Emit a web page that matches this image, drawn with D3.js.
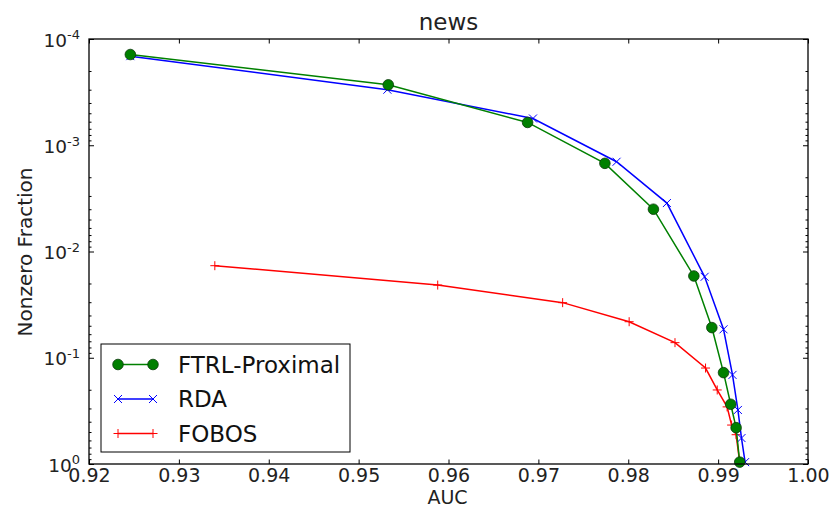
<!DOCTYPE html>
<html>
<head>
<meta charset="utf-8">
<script src="https://cdn.jsdelivr.net/npm/d3@7"></script>
<style>
  body { margin: 0; background: #fff; }
  svg { display: block; font-family: "DejaVu Sans", sans-serif; }
</style>
</head>
<body>
<div id="chart"></div>
<script>
// values (AUC vs nonzero fraction)
var ftrl_auc = [0.9246, 0.9533, 0.9688, 0.9774, 0.9828, 0.9873, 0.9893, 0.9906, 0.9914, 0.9920, 0.9924]
var ftrl_frac = [1.4e-4, 2.7e-4, 6.1e-4, 1.48e-3, 4.0e-3, 0.017, 0.052, 0.138, 0.274, 0.455, 0.96]

var rda_auc = [0.9246, 0.9532, 0.9694, 0.9787, 0.9843, 0.9885, 0.9906, 0.9916, 0.9922, 0.9926, 0.9930]
var rda_frac = [1.45e-4, 3.0e-4, 5.6e-4, 1.43e-3, 3.5e-3, 0.0173, 0.054, 0.145, 0.31, 0.57, 0.96]

var fobos_auc = [0.9340, 0.9588, 0.9727, 0.9801, 0.9852, 0.9886, 0.9899, 0.9910, 0.9915, 0.9920, 0.9924]
var fobos_frac = [0.0136, 0.0207, 0.0303, 0.0458, 0.0721, 0.125, 0.201, 0.29, 0.43, 0.53, 0.96]

var x_ticks = [0.92, 0.93, 0.94, 0.95, 0.96, 0.97, 0.98, 0.99, 1.00]
var y_ticks = [1e-4, 1e-3, 1e-2, 1e-1, 1]
var y_tick_exp = ["-4", "-3", "-2", "-1", "0"]

var series_names = ["FTRL-Proximal", "RDA", "FOBOS"]

var width = 829
var height = 507
// plot box edges (named so they don't clash with window.top)
var plot_left = 89, plot_right = 808, plot_top = 39, plot_bottom = 464

function zip(a, b) { return a.map((v, i) => ({ auc: v, frac: b[i] })) }

var series = [
    { name: series_names[0], data: zip(ftrl_auc, ftrl_frac), color: "#008000", marker: "circle" },
    { name: series_names[1], data: zip(rda_auc, rda_frac), color: "#0000ff", marker: "x" },
    { name: series_names[2], data: zip(fobos_auc, fobos_frac), color: "#ff0000", marker: "plus" }
]

const svg = d3.select("#chart")
    .append("svg")
    .attr("width", width)
    .attr("height", height)

var x = d3.scaleLinear().domain([0.92, 1.0]).range([plot_left, plot_right])
var y = d3.scaleLog().domain([1e-4, 1]).range([plot_top, plot_bottom])

// minor log ticks
var minor = []
for (var e = -4; e < 0; e++) {
    for (var m = 2; m < 10; m++) minor.push(m * Math.pow(10, e))
}

// axes: ticks point inward
svg.append("g")
    .attr("class", "xaxis")
    .attr("transform", "translate(0," + plot_bottom + ")")
    .call(d3.axisBottom(x).tickValues(x_ticks).tickSize(-4.5).tickPadding(5)
        .tickFormat(d3.format(".2f")))

svg.append("g")
    .attr("transform", "translate(0," + plot_top + ")")
    .call(d3.axisTop(x).tickValues(x_ticks).tickSize(-4.5).tickFormat(""))

var yax = svg.append("g")
    .attr("class", "yaxis")
    .attr("transform", "translate(" + plot_left + ",0)")
    .call(d3.axisLeft(y).tickValues(y_ticks).tickSize(-5).tickPadding(9).tickFormat(""))

svg.append("g")
    .attr("transform", "translate(" + plot_left + ",0)")
    .call(d3.axisLeft(y).tickValues(minor).tickSize(-2.5).tickFormat(""))

svg.append("g")
    .attr("transform", "translate(" + plot_right + ",0)")
    .call(d3.axisRight(y).tickValues(y_ticks).tickSize(-5).tickFormat(""))

svg.append("g")
    .attr("transform", "translate(" + plot_right + ",0)")
    .call(d3.axisRight(y).tickValues(minor).tickSize(-2.5).tickFormat(""))

svg.selectAll(".domain").remove()
svg.selectAll(".tick line").attr("stroke", "#000").attr("stroke-width", 1)

svg.selectAll(".xaxis .tick text")
    .style("font-size", "19px")
    .style("font-family", "DejaVu Sans")
    .attr("fill", "#222")

// 10^n labels with superscripts
yax.selectAll(".tick text")
    .style("font-size", "18.5px")
    .style("font-family", "DejaVu Sans")
    .attr("fill", "#222")
    .attr("dy", "0.38em")
    .each(function (d, i) {
        var t = d3.select(this)
        t.text("10")
        t.append("tspan")
            .attr("dy", "-0.55em")
            .style("font-size", "13px")
            .text(y_tick_exp[i])
    })

// lines
var line = d3.line()
    .x((d) => x(d.auc))
    .y((d) => y(d.frac))

function drawMarker(g, kind, color, cx, cy) {
    if (kind == "circle") {
        g.append("circle")
            .attr("cx", cx).attr("cy", cy).attr("r", 5.3)
            .attr("fill", color)
            .attr("stroke", "#0a3a0a")
            .attr("stroke-width", 0.8)
    } else if (kind == "x") {
        var s = 4
        g.append("path")
            .attr("d", "M" + (cx - s) + "," + (cy - s) + "L" + (cx + s) + "," + (cy + s) +
                "M" + (cx - s) + "," + (cy + s) + "L" + (cx + s) + "," + (cy - s))
            .attr("stroke", color).attr("stroke-width", 1).attr("fill", "none")
    } else {
        var s = 4.5
        g.append("path")
            .attr("d", "M" + (cx - s) + "," + cy + "L" + (cx + s) + "," + cy +
                "M" + cx + "," + (cy - s) + "L" + cx + "," + (cy + s))
            .attr("stroke", color).attr("stroke-width", 1).attr("fill", "none")
    }
}

var plot = svg.append("g")

// draw in reverse so FTRL sits on top like the reference
series.slice().reverse().forEach((s) => {
    plot.append("path")
        .datum(s.data)
        .attr("fill", "none")
        .attr("stroke", s.color)
        .attr("stroke-width", 1.5)
        .attr("d", line)
    var mg = plot.append("g")
    s.data.forEach((d) => drawMarker(mg, s.marker, s.color, x(d.auc), y(d.frac)))
})

// frame
svg.append("rect")
    .attr("x", plot_left).attr("y", plot_top)
    .attr("width", plot_right - plot_left).attr("height", plot_bottom - plot_top)
    .attr("fill", "none")
    .attr("stroke", "#000")
    .attr("stroke-width", 1.3)

// title and axis labels
svg.append("text")
    .attr("x", (plot_left + plot_right) / 2)
    .attr("y", 30)
    .attr("text-anchor", "middle")
    .style("font-size", "23px")
    .attr("fill", "#222")
    .text("news")

svg.append("text")
    .attr("x", (plot_left + plot_right) / 2 - 1)
    .attr("y", 504)
    .attr("text-anchor", "middle")
    .style("font-size", "19px")
    .attr("fill", "#222")
    .text("AUC")

svg.append("text")
    .attr("transform", "translate(32," + 252 + ") rotate(-90)")
    .attr("text-anchor", "middle")
    .style("font-size", "20px")
    .attr("fill", "#222")
    .text("Nonzero Fraction")

// legend
var legend = svg.append("g").attr("id", "legend")
legend.append("rect")
    .attr("x", 101).attr("y", 344)
    .attr("width", 249).attr("height", 108)
    .attr("fill", "#fff")
    .attr("stroke", "#000")
    .attr("stroke-width", 1)

series.forEach((s, i) => {
    var ly = 364.5 + i * 34.5
    legend.append("line")
        .attr("x1", 118).attr("x2", 153)
        .attr("y1", ly).attr("y2", ly)
        .attr("stroke", s.color).attr("stroke-width", 1.5)
    drawMarker(legend, s.marker, s.color, 118, ly)
    drawMarker(legend, s.marker, s.color, 153, ly)
    legend.append("text")
        .attr("x", 178).attr("y", ly + 8)
        .style("font-size", "23px")
        .attr("fill", "#111")
        .text(s.name)
})
</script>
</body>
</html>
